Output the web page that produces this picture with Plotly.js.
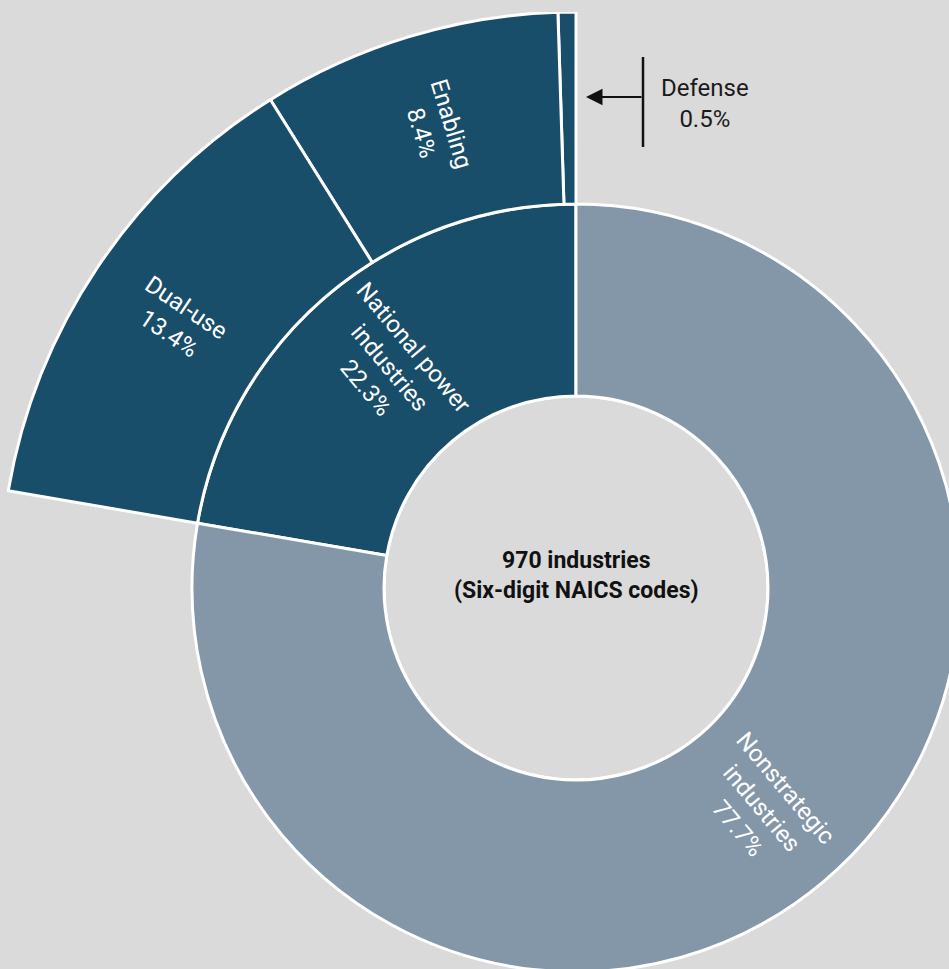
<!DOCTYPE html>
<html>
<head>
<meta charset="utf-8">
<script src="https://cdn.plot.ly/plotly-3.0.1.min.js"></script>
<style>
html,body{margin:0;padding:0;background:#dadada;overflow:hidden;width:949px;height:969px;}
#chart{position:absolute;left:0;top:12px;width:1152px;height:1152px;}
</style>
</head>
<body>
<div id="chart"></div>
<script>
// Data
const ids      = ["root", "national", "nonstrategic", "defense", "enabling", "dualuse"];
const labels   = ["970 industries<br>(Six-digit NAICS codes)", "National power<br>industries", "Nonstrategic<br>industries", "Defense", "Enabling", "Dual-use"];
const parents  = ["", "root", "root", "national", "national", "national"];
const levels   = [0, 1, 1, 2, 2, 2];
const shares   = [100, 22.3, 77.7, 0.5, 8.4, 13.4];   // percent of 970 industries
const leafVals = [0, 0, 77.7, 0.5, 8.4, 13.4];        // values entered (branchvalues remainder)

const colors = ["#dadada", "#194e6b", "#8497a8", "#194e6b", "#194e6b", "#194e6b"];

const trace = {
  type: "sunburst",
  ids: ids,
  labels: labels,
  parents: parents,
  values: leafVals,
  branchvalues: "remainder",
  sort: false,
  rotation: 90,
  textinfo: "none",
  marker: {colors: colors, line: {color: "#ffffff", width: 3}},
  leaf: {opacity: 1},
  hoverinfo: "none"
};

const W = 1152;             // plot size in px (sunburst radius = W/2)
const R = W / 2;
const ringMid = [0, 1.5 * R / 3, 2.5 * R / 3];
const labelFont = {family: "Roboto, 'Open Sans', sans-serif", size: 24, color: "#ffffff", weight: 400};

// label positions follow the sector angles computed from the shares
const annotations = [];
function place(parentId, from) {
  let a = from;
  ids.forEach((id, i) => {
    if (parents[i] !== parentId) return;
    const span = 360 * shares[i] / 100;
    const mid = a + span / 2;
    if (id !== "defense") {
      const rad = mid * Math.PI / 180;
      const r = ringMid[levels[i]];
      let rot = 180 - mid;
      while (rot > 90) rot -= 180;
      while (rot <= -90) rot += 180;
      annotations.push({
        xref: "paper", yref: "paper",
        x: 0.5 + r * Math.cos(rad) / W, y: 0.5 + r * Math.sin(rad) / W,
        xanchor: "center", yanchor: "middle",
        text: labels[i] + "<br>" + shares[i].toFixed(1) + "%",
        textangle: rot, showarrow: false, font: labelFont, align: "center"
      });
    }
    place(id, a);
    a += span;
  });
}
place("root", 90);

// centre text
annotations.push({
  xref: "paper", yref: "paper", x: 0.5, y: 0.5 + 13 / W,
  xanchor: "center", yanchor: "middle",
  text: "<b>" + labels[0] + "</b>", showarrow: false, align: "center",
  font: {family: "Roboto, sans-serif", size: 23, color: "#111111"}
});

// Defense call-out
annotations.push({
  xref: "paper", yref: "paper", x: 586 / W, y: 1 - 85 / W,
  text: "", showarrow: true, ax: 57, ay: 0,
  arrowhead: 2, arrowsize: 1.5, arrowwidth: 2.2, arrowcolor: "#111111"
});
annotations.push({
  xref: "paper", yref: "paper", x: 705 / W, y: 1 - 91 / W,
  xanchor: "center", yanchor: "middle",
  text: labels[3] + "<br>" + shares[3].toFixed(1) + "%", showarrow: false,
  font: {family: "Roboto, sans-serif", size: 24, color: "#1a1a1a", weight: 400},
  align: "center"
});

const layout = {
  width: W, height: W,
  margin: {l: 0, r: 0, t: 0, b: 0},
  paper_bgcolor: "#dadada",
  plot_bgcolor: "#dadada",
  showlegend: false,
  shapes: [{
    type: "line", xref: "paper", yref: "paper",
    x0: 643 / W, x1: 643 / W, y0: 1 - 45 / W, y1: 1 - 135 / W,
    line: {color: "#111111", width: 2.5}
  }],
  annotations: annotations
};

Plotly.newPlot("chart", [trace], layout, {displayModeBar: false, staticPlot: true});
</script>
</body>
</html>
